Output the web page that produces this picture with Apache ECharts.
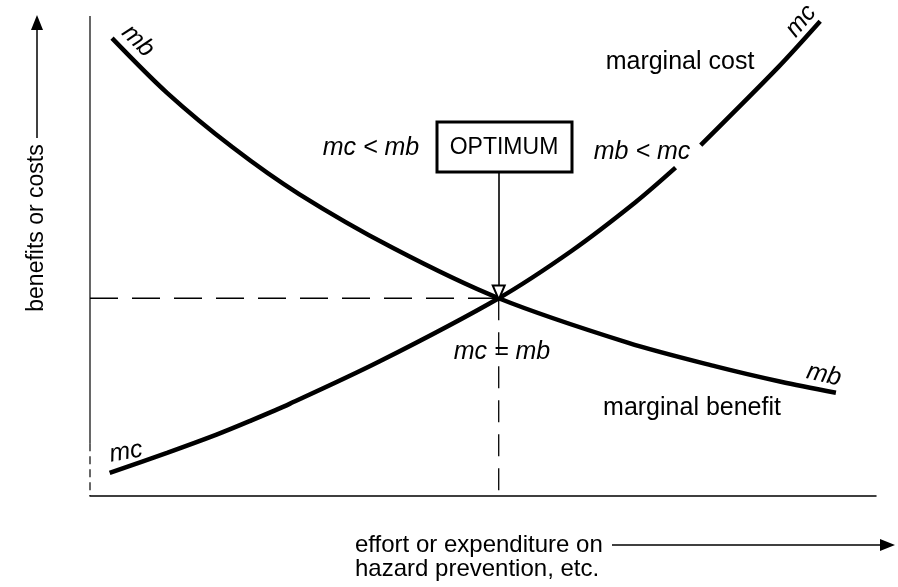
<!DOCTYPE html>
<html>
<head>
<meta charset="utf-8">
<script src="https://cdn.jsdelivr.net/npm/echarts@6/dist/echarts.min.js"></script>
<style>
  html, body { margin: 0; padding: 0; background: #fff; }
  #chart { width: 898px; height: 587px; }
</style>
</head>
<body>
<div id="chart"></div>
<script>
// curve points (x = effort, y = benefit/cost, 0-100 scale)
const mcX = [2.5, 9.8, 16.1, 20.3, 25.4, 36.8, 52, 61.3, 69.4, 74.5, 76, 77.7, 87.6, 92.9];
const mcY = [4.8, 9.0, 12.8, 15.6, 19.2, 28.0, 41.2, 51.1, 61.2, 68.4, "-", 73.1, 89.4, 98.9];
const mbX = [2.8, 9.8, 18.1, 26.6, 38.5, 52, 68.5, 79.6, 87.9, 94.9];
const mbY = [95.4, 84.0, 72.7, 62.9, 51.7, 41.2, 31.9, 27.0, 23.8, 21.5];
// the optimum point where mc = mb
const optX = 52;
const optY = 41.2;
const arrowFrom = 67.5; // bottom of the OPTIMUM box

const zip = (xs, ys) => xs.map((x, i) => (ys[i] === "-" ? "-" : [x, ys[i]]));

const chart = echarts.init(document.getElementById("chart"));
const FONT = "Liberation Sans";

const label = (text, x, y, size, opts) =>
  Object.assign(
    {
      type: "text",
      x: x,
      y: y,
      silent: true,
      style: {
        text: text,
        fill: "#000",
        font: size + "px '" + FONT + "'",
        textAlign: "center",
        textVerticalAlign: "middle",
      },
    },
    opts || {}
  );

const italic = (text, x, y, rot) =>
  label(text, x, y, 25, {
    rotation: rot || 0,
    style: {
      text: text,
      fill: "#000",
      font: "italic 25px '" + FONT + "'",
      textAlign: "center",
      textVerticalAlign: "middle",
    },
  });

const leftText = (text, x, y) =>
  label(text, x, y, 24, {
    style: { text: text, fill: "#000", font: "24px '" + FONT + "'", textAlign: "left", textVerticalAlign: "middle" },
  });

chart.setOption({
  animation: false,
  backgroundColor: "#fff",
  grid: { left: 90, right: 22, top: 16, bottom: 91 },
  xAxis: {
    type: "value",
    min: 0,
    max: 100,
    axisLine: { show: true, lineStyle: { color: "#000", width: 1.5 } },
    axisTick: { show: false },
    axisLabel: { show: false },
    splitLine: { show: false },
  },
  yAxis: {
    type: "value",
    min: 0,
    max: 100,
    axisLine: { show: false },
    axisTick: { show: false },
    axisLabel: { show: false },
    splitLine: { show: false },
  },
  series: [
    {
      // y axis, solid part
      type: "line",
      data: [[0, 100], [0, 11]],
      symbol: "none",
      lineStyle: { color: "#000", width: 1.2 },
      silent: true,
    },
    {
      // y axis, dashed part near the origin
      type: "line",
      data: [[0, 11], [0, 0]],
      symbol: "none",
      lineStyle: { color: "#000", width: 1.2, type: [8, 5] },
      silent: true,
    },
    {
      name: "dash h",
      type: "line",
      data: [[0, optY], [optX, optY]],
      symbol: "none",
      lineStyle: { color: "#000", width: 1.3, type: [28, 14] },
      silent: true,
    },
    {
      name: "dash v",
      type: "line",
      data: [[optX, optY], [optX, 0]],
      symbol: "none",
      lineStyle: { color: "#000", width: 1.3, type: [22, 12] },
      silent: true,
    },
    {
      name: "marginal benefit",
      type: "line",
      smooth: 0.3,
      data: zip(mbX, mbY),
      symbol: "none",
      lineStyle: { color: "#000", width: 4.5 },
    },
    {
      name: "marginal cost",
      type: "line",
      smooth: 0.3,
      connectNulls: false,
      data: zip(mcX, mcY),
      symbol: "none",
      lineStyle: { color: "#000", width: 4.5 },
      markLine: {
        silent: true,
        symbol: ["none", "emptyTriangle"],
        symbolSize: [12, 14],
        label: { show: false },
        lineStyle: { color: "#000", width: 1.6, type: "solid" },
        data: [[{ coord: [optX, arrowFrom] }, { coord: [optX, optY + 1.2] }]],
      },
    },
  ],
  graphic: [
    // OPTIMUM box
    {
      type: "rect",
      shape: { x: 437, y: 122, width: 135, height: 50 },
      style: { fill: "#fff", stroke: "#000", lineWidth: 3 },
      silent: true,
    },
    label("OPTIMUM", 504, 148, 23),
    italic("mc < mb", 371, 148),
    italic("mb < mc", 642, 152),
    italic("mc = mb", 502, 352),
    italic("mb", 138, 41, -Math.PI / 4),
    italic("mc", 801, 21, Math.PI * 0.28),
    italic("mc", 126, 452, 0.17),
    italic("mb", 824, 375, -0.22),
    label("marginal cost", 680, 62, 25),
    label("marginal benefit", 692, 408, 25),
    // y axis title with arrow
    label("benefits or costs", 37, 228, 23, { rotation: Math.PI / 2 }),
    { type: "line", shape: { x1: 37, y1: 138, x2: 37, y2: 28 }, style: { stroke: "#000", lineWidth: 1.5 } },
    { type: "polygon", shape: { points: [[37, 15], [31, 30], [43, 30]] }, style: { fill: "#000" } },
    // x axis title with arrow
    leftText("effort or expenditure on", 355, 545),
    leftText("hazard prevention, etc.", 355, 569),
    { type: "line", shape: { x1: 612, y1: 545, x2: 882, y2: 545 }, style: { stroke: "#000", lineWidth: 1.5 } },
    { type: "polygon", shape: { points: [[895, 545], [880, 539], [880, 551]] }, style: { fill: "#000" } },
  ],
});
</script>
</body>
</html>
